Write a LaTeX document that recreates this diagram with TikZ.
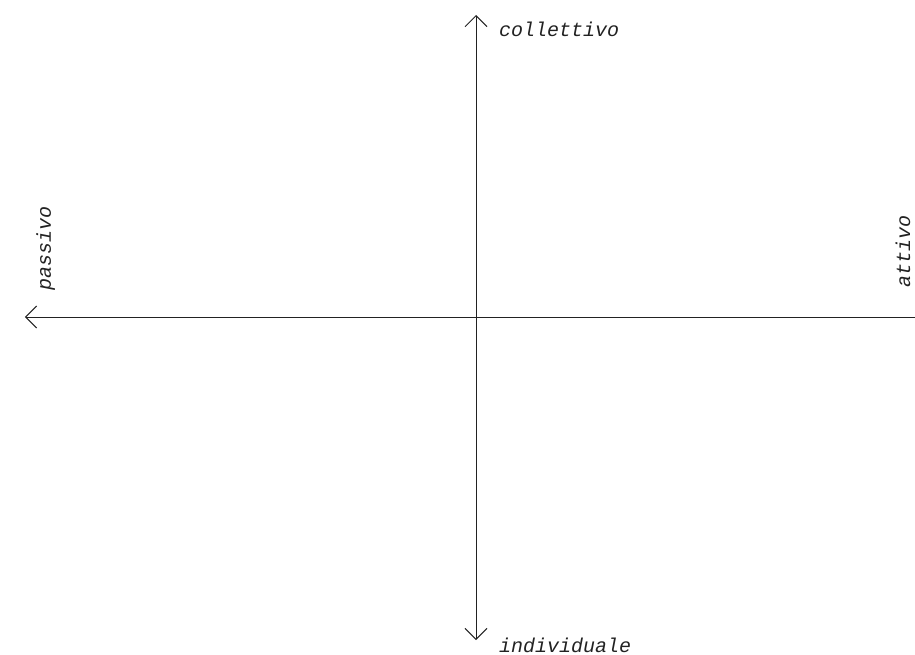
\documentclass[tikz,border=0pt]{standalone}
\usepackage{fontspec}
\setmonofont{Liberation Mono}
\usetikzlibrary{arrows.meta}
\definecolor{ink}{HTML}{222222}
\tikzset{
  axis/.style={draw=ink, line width=1pt, >={Straight Barb[length=11pt,width=22pt]}},
  lbl/.style={inner sep=0pt, text=ink, font=\fontsize{20}{24}\selectfont\ttfamily\itshape}
}
\begin{document}
\begin{tikzpicture}[x=1pt,y=1pt]
\useasboundingbox (-476,-337) rectangle (439,317);
\coordinate (O) at (0,0);
\coordinate (top) at (0,302);
\coordinate (bot) at (0,-323);
\coordinate (left) at (-451,0);
\coordinate (right) at (439,0);
\draw[axis, <->] (bot) -- (top);
\draw[axis, <-] (left) -- (right);
\node[lbl, anchor=base west] (coll) at (23,280) {collettivo};
\node[lbl, anchor=base west] (ind) at (23,-335) {individuale};
\node[lbl, anchor=base west, rotate=90] (pas) at (-425,26) {passivo};
\node[lbl, anchor=base west, rotate=90] (att) at (434,29) {attivo};
\end{tikzpicture}
\end{document}
